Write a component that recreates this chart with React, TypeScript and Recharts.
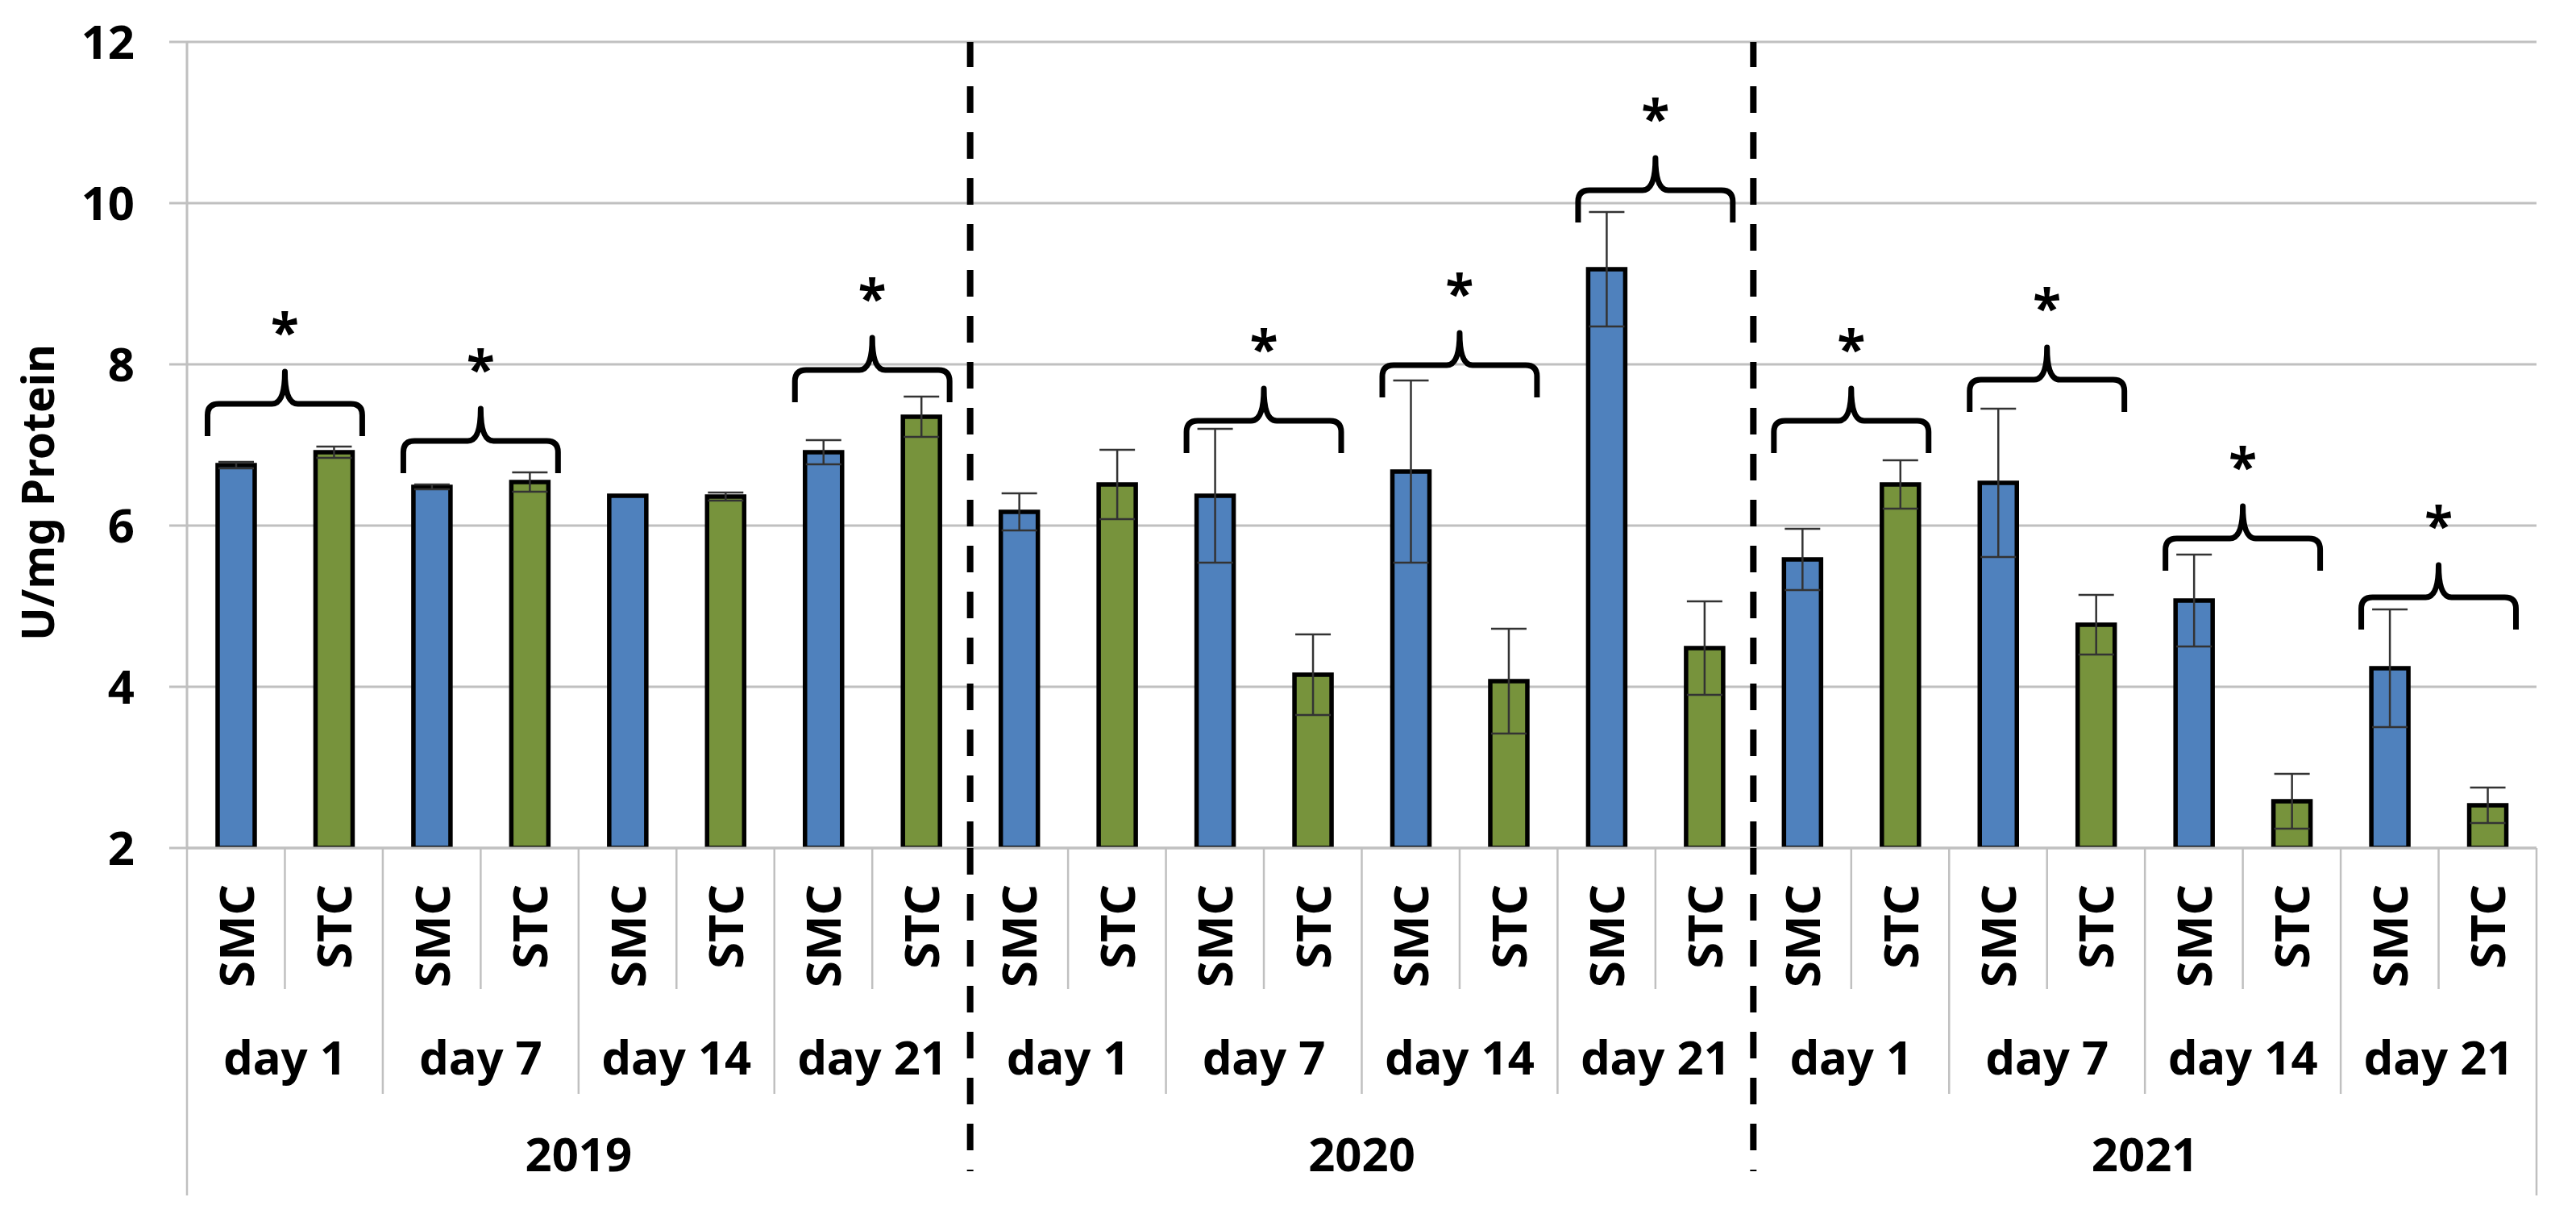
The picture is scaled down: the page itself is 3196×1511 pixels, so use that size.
import { BarChart, Bar, XAxis, YAxis, CartesianGrid, ErrorBar, Cell, ReferenceLine } from 'recharts';

const years = ['2019', '2020', '2021'];
const days = ['day 1', 'day 7', 'day 14', 'day 21'];
const groups = ['SMC', 'STC'];

// year -> day -> SMC, STC
const activity = [
    6.75, 6.91, 6.48, 6.54, 6.37, 6.36, 6.91, 7.35,
    6.17, 6.51, 6.37, 4.15, 6.67, 4.07, 9.18, 4.48,
    5.58, 6.51, 6.53, 4.77, 5.07, 2.58, 4.23, 2.53,
];
const errors = [
    0.04, 0.07, 0.03, 0.12, 0, 0.05, 0.15, 0.25,
    0.23, 0.43, 0.83, 0.5, 1.13, 0.65, 0.71, 0.58,
    0.38, 0.3, 0.92, 0.37, 0.57, 0.34, 0.73, 0.22,
];

// significance braces: pair index (year * 4 + day) and level of the brace
const sigPairs = [0, 1, 3, 5, 6, 7, 8, 9, 10, 11];
const sigLevels = [7.51, 7.05, 7.93, 7.3, 7.99, 10.16, 7.3, 7.81, 5.84, 5.11];

const yTicks = [2, 4, 6, 8, 10, 12];

const COLORS: Record<string, string> = { SMC: '#4F81BD', STC: '#77933C' };
const FONT = "'Noto Sans', sans-serif";
const GRID = '#c0c0c0';

const W = 3196;
const H = 1511;
const M = { top: 52, right: 49, bottom: 19, left: 0 };
const Y_AXIS_W = 232;
const X_AXIS_H = 440;
const PLOT_W = W - M.left - M.right - Y_AXIS_W;

const data = activity.map((v, i) => ({
    key: String(i),
    year: years[Math.floor(i / 8)],
    day: days[Math.floor(i / 2) % 4],
    group: groups[i % 2],
    value: v,
    err: errors[i],
}));

const BAND = PLOT_W / data.length;

const AxisTick = (props: any) => {
    const { x, y, payload } = props;
    const i = props.index ?? payload.index;
    const row = data[i];
    const half = BAND / 2;
    const left = x - half;
    const txt = { fontFamily: FONT, fontWeight: 700, fill: '#000' };

    let sep;
    if (i % 8 === 0 && i > 0) {
        sep = <line x1={left} x2={left} y1={y} y2={y + 401} stroke="#000" strokeWidth={8} strokeDasharray="33 24" />;
    } else if (i % 8 === 0) {
        sep = <line x1={left} x2={left} y1={y} y2={y + 431} stroke={GRID} strokeWidth={2.5} />;
    } else if (i % 2 === 0) {
        sep = <line x1={left} x2={left} y1={y} y2={y + 305} stroke={GRID} strokeWidth={2.5} />;
    } else {
        sep = <line x1={left} x2={left} y1={y} y2={y + 175} stroke={GRID} strokeWidth={2.5} />;
    }

    return (
        <g>
            {sep}
            {i === data.length - 1 && (
                <line x1={x + half} x2={x + half} y1={y} y2={y + 431} stroke={GRID} strokeWidth={2.5} />
            )}
            <text
                x={x + 22}
                y={y + 45}
                transform={`rotate(-90 ${x + 22} ${y + 45})`}
                textAnchor="end"
                fontSize={60}
                {...txt}
            >
                {row.group}
            </text>
            {i % 2 === 0 && (
                <text x={x + half} y={y + 281} textAnchor="middle" fontSize={58} {...txt}>
                    {row.day}
                </text>
            )}
            {i % 8 === 0 && (
                <text x={left + 4 * BAND} y={y + 401} textAnchor="middle" fontSize={58} {...txt}>
                    {row.year}
                </text>
            )}
        </g>
    );
};

// curly brace with a star above it; segment runs between the two bar centres
const Brace = (props: any) => {
    const { x1, x2, y1 } = props;
    if (x1 == null || y1 == null) return null;
    const ext = Math.abs(x2 - x1) * 0.29;
    const L = Math.min(x1, x2) - ext;
    const R = Math.max(x1, x2) + ext;
    const C = (L + R) / 2;
    const Y = y1;
    const h = 40;
    const r = 14;
    const d = [
        `M ${L} ${Y + h}`,
        `L ${L} ${Y + r}`,
        `Q ${L} ${Y} ${L + r} ${Y}`,
        `L ${C - 16} ${Y}`,
        `Q ${C} ${Y} ${C} ${Y - h}`,
        `Q ${C} ${Y} ${C + 16} ${Y}`,
        `L ${R - r} ${Y}`,
        `Q ${R} ${Y} ${R} ${Y + r}`,
        `L ${R} ${Y + h}`,
    ].join(' ');
    return (
        <g>
            <path d={d} fill="none" stroke="#000" strokeWidth={7} strokeLinejoin="round" />
            <text x={C} y={Y - 66} textAnchor="middle" fontSize={64} fontWeight={700} fontFamily={FONT} fill="#000">
                *
            </text>
        </g>
    );
};

const YTitle = (props: any) => {
    const vb = props.viewBox || {};
    const cx = 67;
    const cy = (vb.y ?? M.top) + (vb.height ?? 1000) / 2 + 59;
    return (
        <text
            x={cx}
            y={cy}
            transform={`rotate(-90 ${cx} ${cy})`}
            textAnchor="middle"
            fontSize={55}
            fontWeight={700}
            fontFamily={FONT}
            fill="#000"
        >
            U/mg Protein
        </text>
    );
};

export default function App() {
    return (
        <div style={{ position: 'absolute', left: 0, top: 0, width: W, height: H, background: '#fff' }}>
            <BarChart width={W} height={H} data={data} margin={M}>
                <CartesianGrid vertical={false} stroke={GRID} strokeWidth={3} />
                <XAxis
                    dataKey="key"
                    height={X_AXIS_H}
                    interval={0}
                    tickLine={false}
                    tickSize={0}
                    tickMargin={0}
                    axisLine={{ stroke: GRID, strokeWidth: 3 }}
                    tick={<AxisTick />}
                />
                <YAxis
                    width={Y_AXIS_W}
                    domain={[2, 12]}
                    ticks={yTicks}
                    allowDataOverflow
                    tickSize={22}
                    tickMargin={43}
                    tickLine={{ stroke: GRID, strokeWidth: 3 }}
                    axisLine={{ stroke: GRID, strokeWidth: 3 }}
                    tick={{ fontSize: 58, fontWeight: 700, fill: '#000', fontFamily: FONT }}
                    label={<YTitle />}
                />
                <Bar dataKey="value" barSize={46} stroke="#000" strokeWidth={5.5} isAnimationActive={false}>
                    {data.map((d) => (
                        <Cell key={d.key} fill={COLORS[d.group]} />
                    ))}
                    <ErrorBar dataKey="err" width={22} stroke="#333" strokeWidth={2.5} isAnimationActive={false} />
                </Bar>
                {[8, 16].map((b) => (
                    <ReferenceLine
                        key={b}
                        x={data[b].key}
                        position="start"
                        stroke="#000"
                        strokeWidth={8}
                        strokeDasharray="33 24"
                    />
                ))}
                {sigPairs.map((p, k) => (
                    <ReferenceLine
                        key={`sig-${p}`}
                        position="middle"
                        segment={[
                            { x: data[2 * p].key, y: sigLevels[k] },
                            { x: data[2 * p + 1].key, y: sigLevels[k] },
                        ]}
                        shape={<Brace />}
                    />
                ))}
            </BarChart>
        </div>
    );
}
